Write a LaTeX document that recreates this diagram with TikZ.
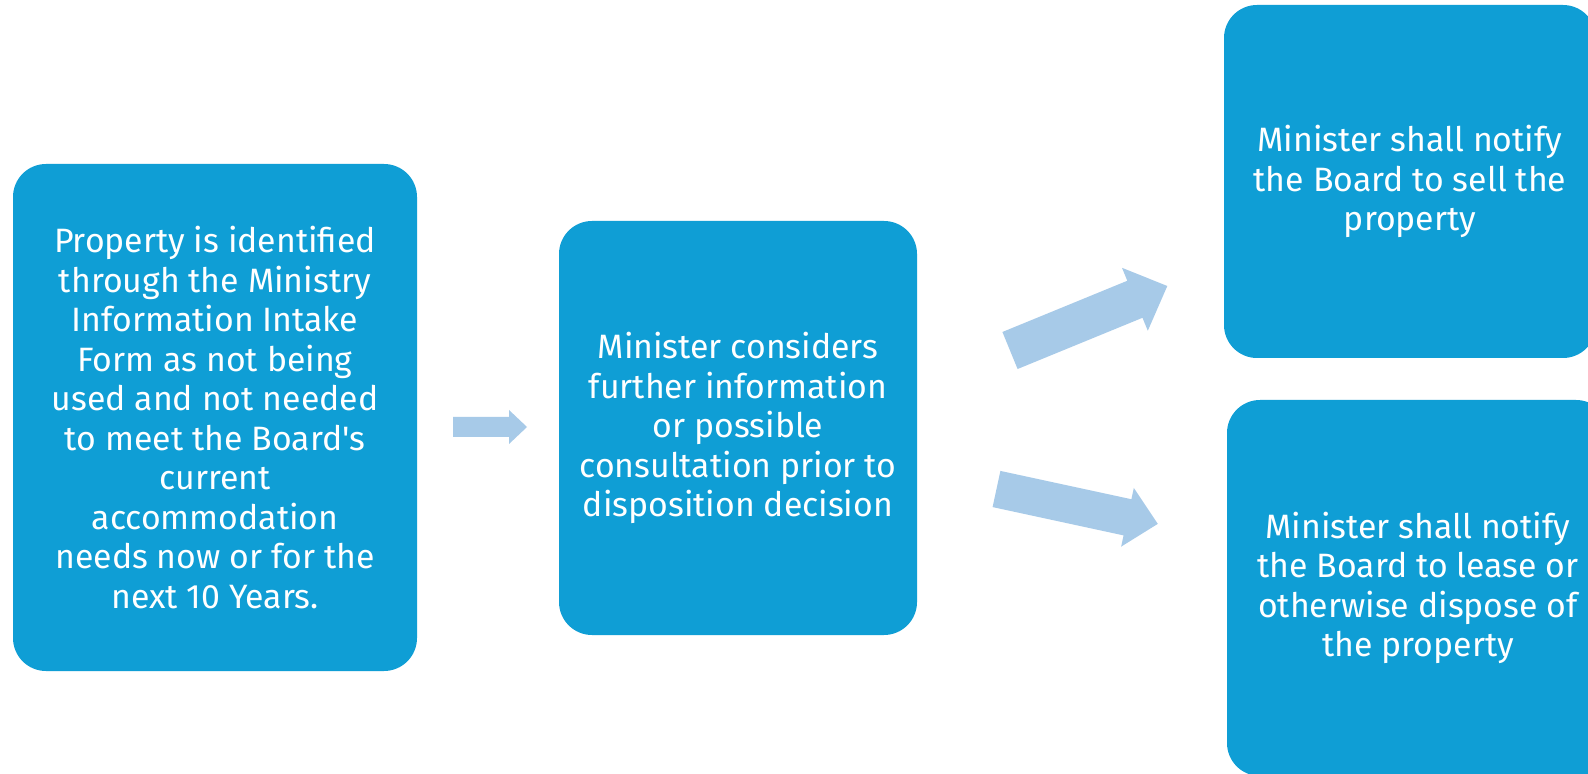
\documentclass[tikz,border=0pt]{standalone}
\usepackage{fontspec}
\setmainfont{Fira Sans}[Ligatures=TeXOff]
\definecolor{boxblue}{HTML}{0F9ED5}
\definecolor{arrblue}{HTML}{A7CAE8}
\tikzset{
  stepbox/.style={fill=boxblue, rounded corners=16.5pt, text=white, align=center,
    font=\fontsize{16.9}{19.75}\selectfont, inner sep=0pt},
  blockarr/.style={fill=arrblue}
}
% #1 tail coordinate name, #2 angle, #3 length, #4 shaft width, #5 head width, #6 head length
\newcommand\blockarrow[6]{%
  \begin{scope}[shift={(#1)},rotate=#2]
    \fill[blockarr] (0,-#4/2) -- (#3-#6,-#4/2) -- (#3-#6,-#5/2) -- (#3,0)
      -- (#3-#6,#5/2) -- (#3-#6,#4/2) -- (0,#4/2) -- cycle;
  \end{scope}}
\begin{document}
\begin{tikzpicture}[x=0.5pt,y=-0.5pt]
\useasboundingbox (0,0) rectangle (1588,774);
\clip (0,0) rectangle (1588,774);
\fill[white] (0,0) rectangle (1588,774);
\node[stepbox, minimum width=202pt, minimum height=253.5pt] (b1) at (215,417.5)
  {Property is identified\\through the Ministry\\Information Intake\\Form as not being\\used and not needed\\to meet the Board's\\current\\accommodation\\needs now or for the\\next 10 Years.};
\node[stepbox, minimum width=179pt, minimum height=207pt] (b2) at (738,428)
  {Minister considers\\further information\\or possible\\consultation prior to\\disposition decision};
\node[stepbox, minimum width=186pt, minimum height=176.5pt] (b3) at (1410,181.5)
  {Minister shall notify\\the Board to sell the\\property};
\node[stepbox, minimum width=191pt, minimum height=188pt] (b4) at (1418,588)
  {Minister shall notify\\the Board to lease or\\otherwise dispose of\\the property};
\coordinate (a1) at (453,427);
\coordinate (a2) at (1010,350.5);
\coordinate (a3) at (996.5,489);
\blockarrow{a1}{0}{74}{20}{34}{18}
\blockarrow{a2}{22.3}{170}{40}{68}{35}
\blockarrow{a3}{-12.2}{165}{37}{60}{31}
\end{tikzpicture}
\end{document}
